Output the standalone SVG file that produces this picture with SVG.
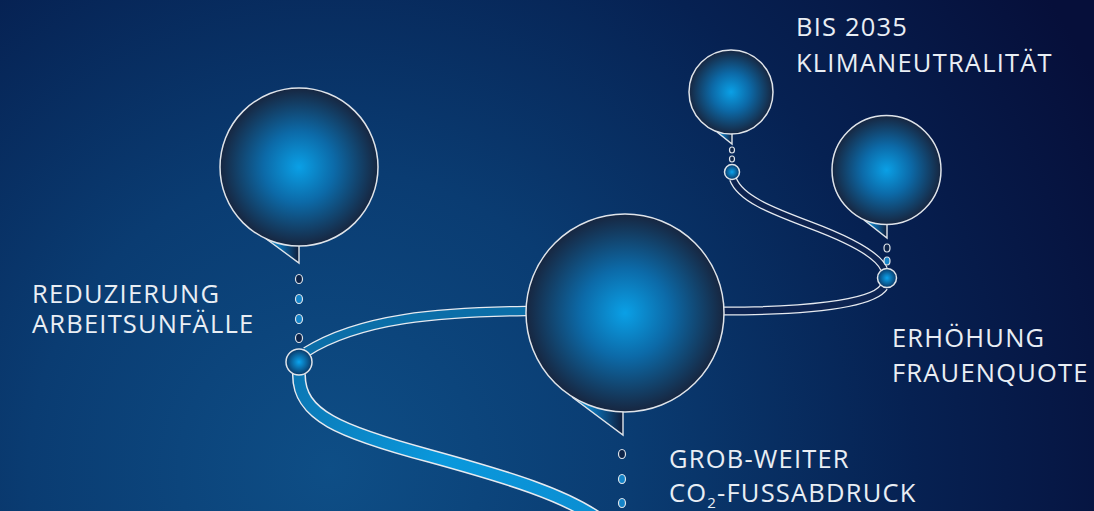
<svg xmlns="http://www.w3.org/2000/svg" width="1094" height="511" viewBox="0 0 1094 511">
<defs>
<radialGradient id="bg" gradientUnits="userSpaceOnUse" cx="330" cy="470" r="860">
<stop offset="0" stop-color="#0e4e86"/>
<stop offset="0.35" stop-color="#0a3c72"/>
<stop offset="0.68" stop-color="#062152"/>
<stop offset="1" stop-color="#060f3a"/>
</radialGradient>
<radialGradient id="ball" cx="0.5" cy="0.5" r="0.5">
<stop offset="0" stop-color="#0aa0e6"/>
<stop offset="0.45" stop-color="#0c6aa8"/>
<stop offset="1" stop-color="#172640"/>
</radialGradient>
<radialGradient id="knob" cx="0.5" cy="0.5" r="0.5">
<stop offset="0" stop-color="#0ba4ee"/>
<stop offset="1" stop-color="#0a3766"/>
</radialGradient>
<linearGradient id="tail" x1="0" y1="0" x2="1" y2="0">
<stop offset="0" stop-color="#14a8ea"/>
<stop offset="0.55" stop-color="#0b5d9a"/>
<stop offset="1" stop-color="#101d3a"/>
</linearGradient>
<linearGradient id="tubeLow" gradientUnits="userSpaceOnUse" x1="299" y1="374" x2="600" y2="511">
<stop offset="0" stop-color="#0b78b5"/>
<stop offset="0.5" stop-color="#0a98dc"/>
<stop offset="1" stop-color="#0b8ed2"/>
</linearGradient>
<style>
.ball{fill:url(#ball);stroke:#dfe4ea;stroke-width:1.5}
.knob{fill:url(#knob);stroke:#dfe4ea;stroke-width:1.5}
.tailf{fill:url(#tail)}
.tails{fill:none;stroke:#dfe4ea;stroke-width:1.4;stroke-linejoin:miter}
.dot{stroke:#dfe4ea;stroke-width:1.2}
.dk{fill:#0e2448}
.bl{fill:#1584c8}
.tw{fill:none;stroke:#e6eaf0;stroke-linecap:butt}
.lbl{font-family:"Open Sans","Noto Sans","Liberation Sans",sans-serif;font-size:25.5px;font-weight:400;letter-spacing:1.2px;fill:#e9eef4}
</style>
</defs>
<rect width="1094" height="511" fill="url(#bg)"/>

<g id="connectors">
<path class="tw" stroke-width="10.5" d="M526,311 C440,312 360,318 306,352"/>
<path fill="none" stroke="#0b6ea8" stroke-width="8" d="M526,311 C440,312 360,318 306,352"/>
<path class="tw" stroke-width="14" d="M299,374 C298,415 340,432 430,456 C510,478 565,495 600,520"/>
<path fill="none" stroke="url(#tubeLow)" stroke-width="11" d="M299,374 C298,415 340,432 430,456 C510,478 565,495 600,520"/>
<path class="tw" stroke-width="9" d="M724,311 C800,311 872,305 884,287"/>
<path fill="none" stroke="#0d2452" stroke-width="6.5" d="M724,311 C800,311 872,305 884,287"/>
<path class="tw" stroke-width="8" d="M733,179 C740,198 770,210 810,225 C850,240 878,255 884,269"/>
<path fill="none" stroke="#0d2350" stroke-width="5.5" d="M733,179 C740,198 770,210 810,225 C850,240 878,255 884,269"/>
</g>

<g id="node-arbeitsunfaelle">
<polygon class="tailf" points="265,238 299,263 299,235"/>
<polyline class="tails" points="265,238 299,263 299,240"/>
<circle class="ball" cx="299" cy="167" r="79"/>
<ellipse class="dot dk" cx="299" cy="279" rx="3.5" ry="4.5"/>
<ellipse class="dot bl" cx="299" cy="299" rx="3.5" ry="4.5"/>
<ellipse class="dot bl" cx="299" cy="319" rx="3.5" ry="4.5"/>
<ellipse class="dot dk" cx="299" cy="338" rx="3.5" ry="4.5"/>
<circle class="knob" cx="299" cy="362" r="13"/>
<text class="lbl" x="32" y="303">REDUZIERUNG</text>
<text class="lbl" x="32" y="333">ARBEITSUNFÄLLE</text>
</g>

<g id="node-co2">
<polygon class="tailf" points="572,397 623,435 623,400"/>
<polyline class="tails" points="572,397 623,435 623,405"/>
<circle class="ball" cx="625" cy="313" r="99"/>
<ellipse class="dot dk" cx="622" cy="454" rx="3.5" ry="4.5"/>
<ellipse class="dot bl" cx="622" cy="479" rx="3.5" ry="4.5"/>
<ellipse class="dot bl" cx="622" cy="503" rx="3.5" ry="4.5"/>
<text class="lbl" x="669" y="468">GROB-WEITER</text>
<text class="lbl" x="669" y="502">CO<tspan font-size="15" dy="6">2</tspan><tspan dy="-6">-FUSSABDRUCK</tspan></text>
</g>

<g id="node-klima">
<polygon class="tailf" points="717,132 732,144 732,125"/>
<polyline class="tails" points="717,132 732,144 732,130"/>
<circle class="ball" cx="731" cy="92" r="42"/>
<ellipse class="dot dk" cx="732" cy="150" rx="2.5" ry="3"/>
<ellipse class="dot dk" cx="732" cy="159" rx="2.5" ry="3"/>
<circle class="knob" cx="732" cy="172" r="7.5"/>
<text class="lbl" x="796" y="36">BIS 2035</text>
<text class="lbl" x="796" y="72">KLIMANEUTRALITÄT</text>
</g>

<g id="node-frauenquote">
<polygon class="tailf" points="864,220 887,238 887,215"/>
<polyline class="tails" points="864,220 887,238 887,222"/>
<circle class="ball" cx="886.5" cy="170" r="54.5"/>
<ellipse class="dot dk" cx="887" cy="248" rx="3" ry="4"/>
<ellipse class="dot bl" cx="887" cy="261" rx="3" ry="4"/>
<circle class="knob" cx="887" cy="278" r="9.5"/>
<text class="lbl" x="892" y="347">ERHÖHUNG</text>
<text class="lbl" x="892" y="382">FRAUENQUOTE</text>
</g>
</svg>
